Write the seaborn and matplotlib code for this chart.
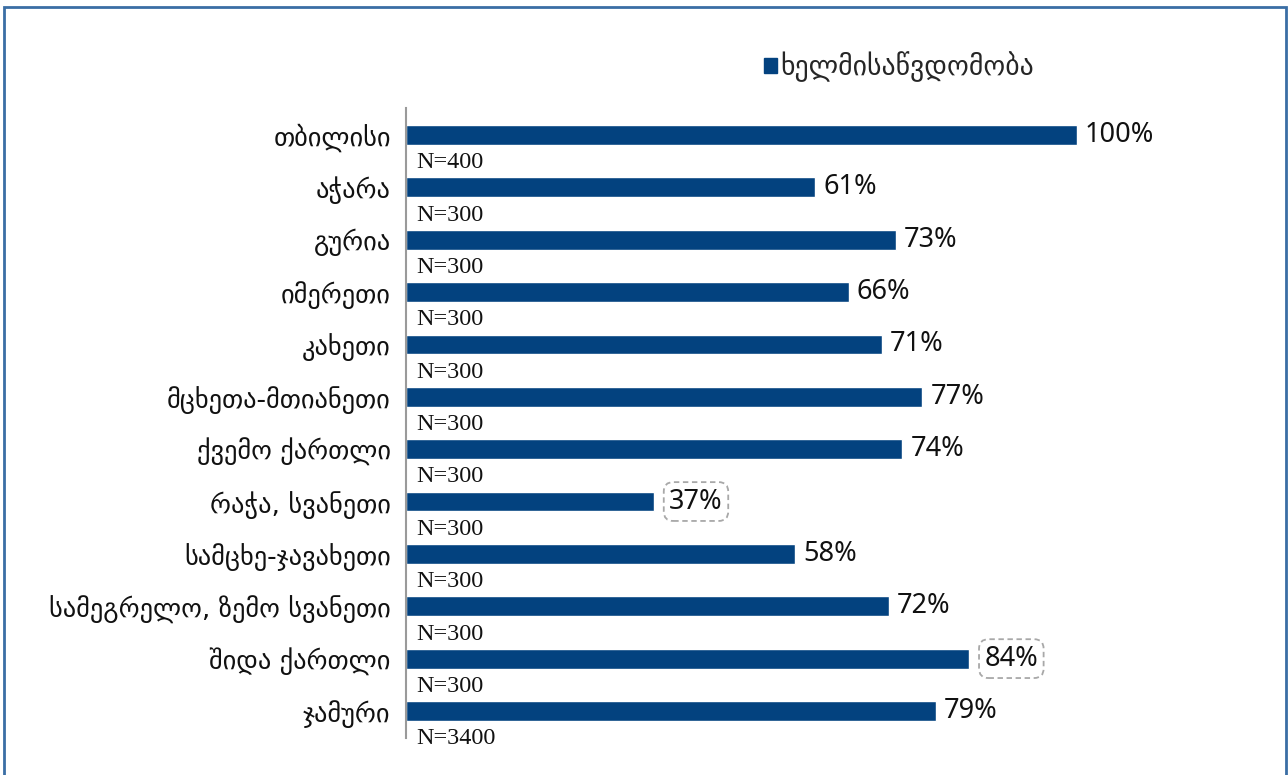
import matplotlib
matplotlib.use("Agg")
import matplotlib.pyplot as plt
import matplotlib.patches as mpatches
import seaborn as sns
import pandas as pd

categories = ["თბილისი", "აჭარა", "გურია", "იმერეთი", "კახეთი", "მცხეთა-მთიანეთი",
              "ქვემო ქართლი", "რაჭა, სვანეთი", "სამცხე-ჯავახეთი",
              "სამეგრელო, ზემო სვანეთი", "შიდა ქართლი", "ჯამური"]
values = [100, 61, 73, 66, 71, 77, 74, 37, 58, 72, 84, 79]
n_labels = ["N=400", "N=300", "N=300", "N=300", "N=300", "N=300", "N=300",
            "N=300", "N=300", "N=300", "N=300", "N=3400"]
highlighted = ["რაჭა, სვანეთი", "შიდა ქართლი"]
series_name = "ხელმისაწვდომობა"

BAR = "#03427F"
sns.set_theme(style="white")
plt.rcParams["font.family"] = ["DejaVu Sans"]

df = pd.DataFrame({"region": categories, "value": values})

W, H = 1288, 775
fig = plt.figure(figsize=(W / 100, H / 100), dpi=100)
fig.patch.set_facecolor("white")
ax = fig.add_axes([406 / W, 37 / H, 872 / W, 630 / H])

sns.barplot(data=df, x="value", y="region", orient="h", color=BAR,
            width=0.38, saturation=1, ax=ax)

ax.set_xlim(0, 130)
ax.set_ylim(11.516, -0.516)
ax.set_xlabel("")
ax.set_ylabel("")
ax.set_xticks([])
for s in ["top", "right", "bottom"]:
    ax.spines[s].set_visible(False)
ax.spines["left"].set_color("#9a9a9a")
ax.spines["left"].set_linewidth(1.5)
ax.tick_params(axis="y", length=0, pad=11)
ax.set_yticks(range(len(categories)))
ax.set_yticklabels(categories, fontsize=19, color="#111111",
                   family=["DejaVu Sans"])
ax.set_facecolor("white")

for i, (cat, v, nl) in enumerate(zip(categories, values, n_labels)):
    box = None
    off = 8
    if cat in highlighted:
        box = dict(boxstyle="round,pad=0.2,rounding_size=0.35", fc="white",
                   ec="#a8a8a8", ls=(0, (3, 2)), lw=1.3)
        off = 15
    ax.annotate(f"{v}%", xy=(v, i), xytext=(off, 0), textcoords="offset pixels",
                va="center", ha="left", fontsize=19.5, color="#111111",
                family=["Noto Sans", "DejaVu Sans"], bbox=box,
                annotation_clip=False)
    ax.annotate(nl, xy=(0, i + 0.53), xytext=(10, 0), textcoords="offset pixels",
                va="center", ha="left", fontsize=17.4, color="#111111",
                family=["Liberation Serif"], annotation_clip=False)

handle = mpatches.Patch(color=BAR)
fig.legend([handle], [series_name], loc="center left",
           bbox_to_anchor=(764 / W, 1 - 67 / H), frameon=False,
           borderpad=0, borderaxespad=0,
           handlelength=0.47, handleheight=0.47, handletextpad=0.12,
           prop={"size": 20, "family": "DejaVu Sans"})

frame = mpatches.Rectangle((4 / W, -0.02), 1282 / W, 1.02 - 7 / H,
                           transform=fig.transFigure, fill=False,
                           ec="#3A6EA5", lw=2, clip_on=False)
fig.patches.append(frame)

fig.savefig("out.png", dpi=100, facecolor="white")
